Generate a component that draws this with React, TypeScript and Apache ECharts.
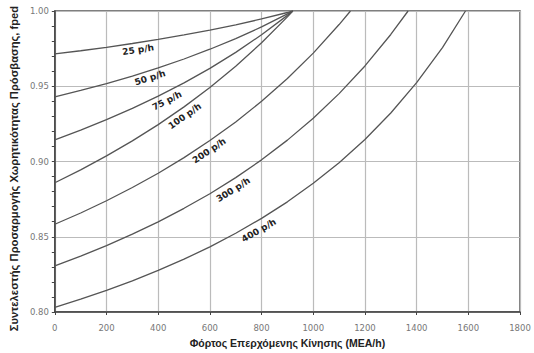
import React, { useEffect, useRef } from "react";
import * as echarts from "echarts";

// Conflicting flow (MEA/h) sample points
const xLow = [0, 100, 200, 300, 400, 500, 600, 700, 800, 900, 921];
const x200 = [0, 100, 200, 300, 400, 500, 600, 700, 800, 900, 1000, 1100, 1144];
const x300 = [0, 100, 200, 300, 400, 500, 600, 700, 800, 900, 1000, 1100, 1200, 1300, 1367];
const x400 = [0, 100, 200, 300, 400, 500, 600, 700, 800, 900, 1000, 1100, 1200, 1300, 1400, 1500, 1589];

// fped values
const f25 = [0.9715, 0.9736, 0.9759, 0.9784, 0.9811, 0.9841, 0.9873, 0.9908, 0.9947, 0.999, 1.0];
const f50 = [0.9429, 0.9472, 0.9518, 0.9568, 0.9622, 0.9681, 0.9746, 0.9817, 0.9894, 0.9981, 1.0];
const f75 = [0.9144, 0.9208, 0.9278, 0.9353, 0.9434, 0.9522, 0.9619, 0.9725, 0.9842, 0.9971, 1.0];
const f100 = [0.8859, 0.8944, 0.9037, 0.9137, 0.9245, 0.9363, 0.9492, 0.9633, 0.9789, 0.9961, 1.0];
const f200 = [0.8583, 0.8658, 0.8739, 0.8827, 0.8922, 0.9026, 0.9139, 0.9263, 0.94, 0.9552, 0.972, 0.991, 1.0];
const f300 = [0.8307, 0.8371, 0.8441, 0.8517, 0.8599, 0.8689, 0.8786, 0.8893, 0.9011, 0.9142, 0.9288, 0.9451, 0.9635, 0.9844, 1.0];
const f400 = [0.803, 0.8085, 0.8144, 0.8207, 0.8276, 0.8351, 0.8433, 0.8523, 0.8622, 0.8732, 0.8855, 0.8992, 0.9146, 0.9322, 0.9524, 0.9757, 1.0];

const curveNames = ["25 p/h", "50 p/h", "75 p/h", "100 p/h", "200 p/h", "300 p/h", "400 p/h"];
const curveX = [xLow, xLow, xLow, xLow, x200, x300, x400];
const curveY = [f25, f50, f75, f100, f200, f300, f400];
// load value at which each curve's label sits, and its distance below the curve
const labelAt = [318, 360, 420, 485, 580, 672, 772];
const labelOff = [7, 7, 8, 8, 8, 9, 9];

const xTicks = [0, 200, 400, 600, 800, 1000, 1200, 1400, 1600, 1800];

function interp(xs: number[], ys: number[], x: number) {
  for (let i = 0; i < xs.length - 1; i++) {
    if (x >= xs[i] && x <= xs[i + 1]) {
      const t = (x - xs[i]) / (xs[i + 1] - xs[i]);
      return ys[i] + t * (ys[i + 1] - ys[i]);
    }
  }
  return ys[ys.length - 1];
}

export default function App() {
  const ref = useRef<HTMLDivElement>(null);
  useEffect(() => {
    if (!ref.current) return;
    const chart = echarts.init(ref.current, null, { renderer: "svg", width: 534, height: 353 });
    const series = curveNames.map((n, i) => ({
      name: n,
      type: "line",
      data: curveX[i].map((x, j) => [x, curveY[i][j]]),
      showSymbol: false,
      smooth: false,
      lineStyle: { color: "#555", width: 1.3 },
      silent: true,
    }));
    chart.setOption({
      animation: false,
      backgroundColor: "#ffffff",
      grid: { left: 53, right: 14, top: 11, bottom: 38, show: true, borderColor: "#555", borderWidth: 1.5 },
      xAxis: {
        type: "value",
        min: xTicks[0],
        max: xTicks[xTicks.length - 1],
        interval: 200,
        name: "Φόρτος Επερχόμενης Κίνησης (ΜΕΑ/h)",
        nameLocation: "middle",
        nameGap: 25,
        nameTextStyle: { fontFamily: "Liberation Sans", fontWeight: "bold", fontSize: 10.5, color: "#222" },
        axisLine: { lineStyle: { color: "#444", width: 1.5 } },
        axisTick: { show: true, length: 3, lineStyle: { color: "#444" } },
        axisLabel: { color: "#777", fontSize: 8.5, fontFamily: "DejaVu Sans", margin: 11, formatter: (v: number) => String(v) },
        splitLine: { show: true, lineStyle: { color: "#bbb", width: 1.2 } },
      },
      yAxis: {
        type: "value",
        min: 0.8,
        max: 1.0,
        interval: 0.05,
        name: "Συντελεστής Προσαρμογής Χωρητικότητας Πρόσβασης, fped",
        nameLocation: "middle",
        nameGap: 31,
        nameTextStyle: { fontFamily: "Liberation Sans", fontWeight: "bold", fontSize: 11.2, color: "#222", padding: [0, 14, 0, 0] },
        axisLine: { show: true, lineStyle: { color: "#444", width: 1.5 } },
        axisTick: { show: true, length: 3, lineStyle: { color: "#444" } },
        minorTick: { show: true, splitNumber: 5, length: 3, lineStyle: { color: "#444" } },
        axisLabel: { color: "#777", fontSize: 8.5, fontFamily: "DejaVu Sans", margin: 6, formatter: (v: number) => v.toFixed(2) },
        splitLine: { show: true, lineStyle: { color: "#bbb", width: 1.2 } },
      },
      series,
    });
    // curve labels placed along the curves via the axes' scales
    const texts = curveNames.map((n, i) => {
      const xv = labelAt[i];
      const p1 = chart.convertToPixel({ gridIndex: 0 }, [xv - 25, interp(curveX[i], curveY[i], xv - 25)]) as number[];
      const p2 = chart.convertToPixel({ gridIndex: 0 }, [xv + 25, interp(curveX[i], curveY[i], xv + 25)]) as number[];
      const p = chart.convertToPixel({ gridIndex: 0 }, [xv, interp(curveX[i], curveY[i], xv)]) as number[];
      const dx = p2[0] - p1[0];
      const dy = p2[1] - p1[1];
      const len = Math.sqrt(dx * dx + dy * dy);
      const nx = -dy / len;
      const ny = dx / len;
      const off = labelOff[i];
      return {
        type: "text",
        x: p[0] + nx * off,
        y: p[1] + ny * off,
        rotation: Math.atan2(-dy, dx),
        style: {
          text: n,
          align: "center",
          verticalAlign: "middle",
          fontFamily: "DejaVu Sans",
          fontWeight: "bold",
          fontSize: 9,
          fill: "#222",
        },
      };
    });
    chart.setOption({ graphic: texts });
    return () => chart.dispose();
  }, []);
  return <div ref={ref} style={{ position: "fixed", left: 0, top: 0, width: 534, height: 353 }} />;
}
